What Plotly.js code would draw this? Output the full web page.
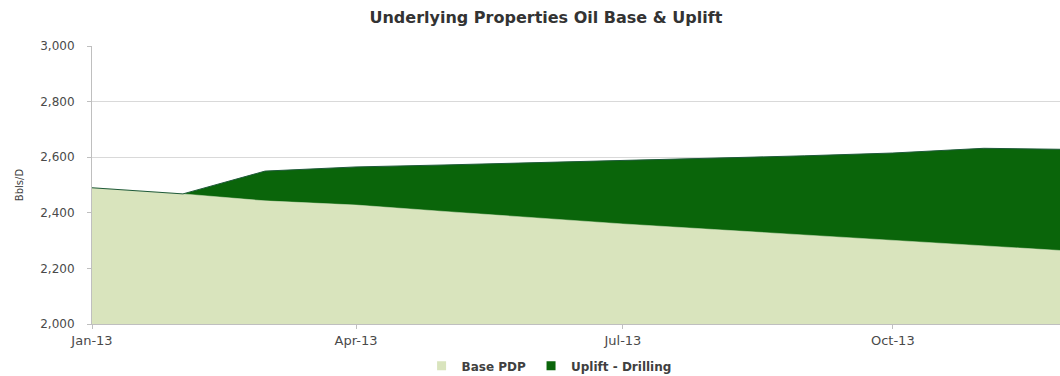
<!DOCTYPE html>
<html>
<head>
<meta charset="utf-8">
<script src="https://cdn.plot.ly/plotly-3.0.1.min.js"></script>
<style>html,body{margin:0;padding:0;background:#fff;}#chart{width:1060px;height:376px;}</style>
</head>
<body>
<div id="chart"></div>
<script>
const months = ['2013-01-01','2013-02-01','2013-03-01','2013-04-01','2013-05-01','2013-06-01','2013-07-01','2013-08-01','2013-09-01','2013-10-01','2013-11-01','2013-12-01'];
const basePDP = [2490, 2468, 2443, 2428, 2405, 2382, 2360, 2340, 2320, 2302, 2282, 2262];
const upliftDrilling = [0, 0, 107, 137, 167, 198, 228, 256, 285, 313, 350, 366];
const seriesNames = ['Base PDP', 'Uplift - Drilling'];
const seriesColors = ['#d9e4bd', '#0a650a'];

const traces = [
  {
    x: months, y: basePDP, name: seriesNames[0], type: 'scatter', mode: 'lines',
    stackgroup: 'one', fillcolor: seriesColors[0], line: {color: seriesColors[0], width: 0.5},
    showlegend: false
  },
  {
    x: months, y: upliftDrilling, name: seriesNames[1], type: 'scatter', mode: 'lines',
    stackgroup: 'one', fillcolor: seriesColors[1], line: {color: '#1f5a3a', width: 1},
    showlegend: false
  },
  {
    x: [null], y: [null], name: seriesNames[0], type: 'scatter', mode: 'markers',
    marker: {symbol: 'square', size: 9, color: seriesColors[0]}, showlegend: true
  },
  {
    x: [null], y: [null], name: seriesNames[1], type: 'scatter', mode: 'markers',
    marker: {symbol: 'square', size: 9, color: seriesColors[1]}, showlegend: true
  }
];

const layout = {
  width: 1060, height: 376,
  margin: {l: 92, r: 0, t: 46, b: 52},
  paper_bgcolor: '#ffffff', plot_bgcolor: '#ffffff',
  font: {family: '"DejaVu Sans", sans-serif', color: '#404040', size: 11},
  title: {
    text: '<b>Underlying Properties Oil Base & Uplift</b>',
    font: {family: '"DejaVu Sans", sans-serif', size: 16, color: '#333333'},
    xref: 'container', x: 0.515, xanchor: 'center',
    yref: 'container', y: 0.955, yanchor: 'middle'
  },
  xaxis: {
    type: 'date',
    range: ['2013-01-01', '2013-11-27'],
    tickformat: '%b-%y', dtick: 'M3', tick0: '2013-01-01',
    ticks: 'outside', ticklen: 4, tickcolor: '#bfbfbf',
    showgrid: false, showline: true, linecolor: '#bfbfbf', linewidth: 1,
    tickfont: {size: 13, color: '#4a4a4a'}, zeroline: false
  },
  yaxis: {
    range: [2000, 3000], dtick: 200, tickformat: ',d',
    ticks: 'outside', ticklen: 4, tickcolor: '#bfbfbf',
    ticklabelstandoff: 10,
    showgrid: true, gridcolor: '#d9d9d9', gridwidth: 1,
    showline: true, linecolor: '#bfbfbf', linewidth: 1,
    tickfont: {size: 12, color: '#4a4a4a'}, zeroline: false,
    title: {text: 'Bbls/D', font: {size: 10, color: '#404040'}, standoff: 14}
  },
  showlegend: true,
  legend: {
    orientation: 'h', xref: 'container', x: 0.518, xanchor: 'center',
    yref: 'container', y: 0.027, yanchor: 'middle',
    font: {size: 12, color: '#404040', family: '"DejaVu Sans", sans-serif', weight: 'bold'},
    itemwidth: 30, traceorder: 'normal'
  }
};

Plotly.newPlot('chart', traces, layout, {displayModeBar: false, staticPlot: true});
</script>
</body>
</html>
